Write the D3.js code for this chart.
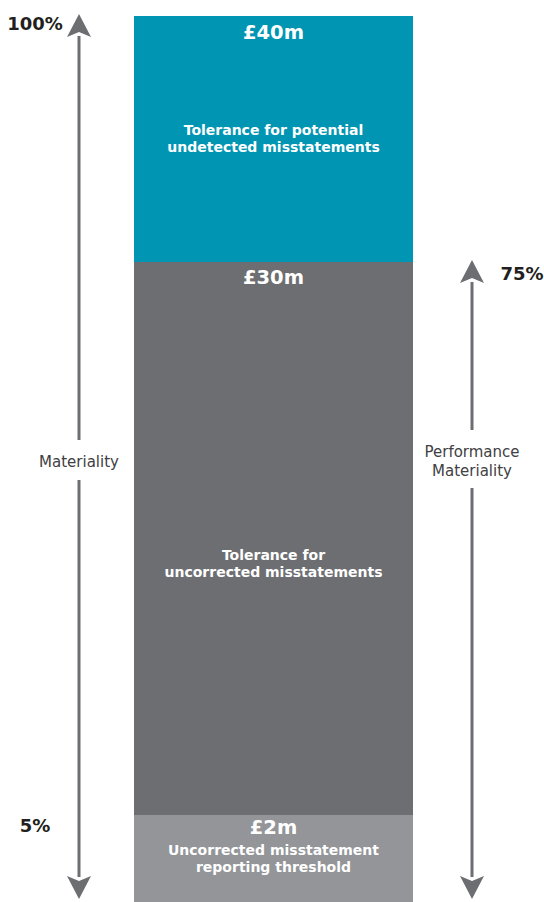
<!DOCTYPE html>
<html><head><meta charset="utf-8">
<script src="https://cdn.jsdelivr.net/npm/d3@7"></script>
<style>
html,body{margin:0;padding:0;background:#fff;}
svg{display:block;font-family:"DejaVu Sans",sans-serif;}
</style></head>
<body>
<script>
// Data (values in £m)
const levels = [40, 30, 2, 0];
const levelLabels = ["£40m", "£30m", "£2m"];
const descriptions = [
  ["Tolerance for potential", "undetected misstatements"],
  ["Tolerance for", "uncorrected misstatements"],
  ["Uncorrected misstatement", "reporting threshold"]
];
const percentLabels = ["100%", "75%", "5%"];
const arrowNames = [["Materiality"], ["Performance", "Materiality"]];
const arrowTops = [40, 30];

const segColors = ["#0095b2", "#6d6e72", "#939598"];
const arrowColor = "#6d6e72";

const W = 544, H = 902;
const svg = d3.select("body").append("svg").attr("width", W).attr("height", H);

// schematic (piecewise) value scale
const y = d3.scaleLinear().domain([0, 2, 30, 40]).range([902, 815, 262, 16]);
const x = d3.scaleBand().domain(["bar"]).range([134, 413]);

const segs = levelLabels.map((l, i) => ({top: levels[i], bottom: levels[i+1], label: l, desc: descriptions[i], color: segColors[i]}));

svg.selectAll("rect.seg").data(segs).join("rect")
  .attr("class", "seg")
  .attr("x", x("bar")).attr("width", x.bandwidth())
  .attr("y", d => y(d.top)).attr("height", d => y(d.bottom) - y(d.top))
  .attr("fill", d => d.color);

const cx = x("bar") + x.bandwidth() / 2;
const valDy = [23, 22, 19];
svg.selectAll("text.val").data(segs).join("text")
  .attr("class", "val")
  .attr("x", cx).attr("y", (d, i) => y(d.top) + valDy[i])
  .attr("text-anchor", "middle").attr("fill", "#fff")
  .attr("font-size", 19.5).attr("font-weight", "bold")
  .text(d => d.label);

const descY = [d => (y(40) + y(30)) / 2 - 4, d => (y(30) + y(2)) / 2 + 21, d => y(2) + 40];
segs.forEach((d, i) => {
  const t = svg.append("text").attr("text-anchor", "middle").attr("fill", "#fff")
    .attr("font-size", 14).attr("font-weight", "bold");
  d.desc.forEach((line, j) => {
    t.append("tspan").attr("x", cx).attr("y", descY[i](d) + j * 17).text(line);
  });
});

// arrows
function arrow(xc, topVal, names, gapMid) {
  const yt = y(topVal) - 2, yb = y(0) - 3;
  const hw = 12, hh = 23;
  const g = svg.append("g").attr("fill", arrowColor);
  const gapTop = gapMid - 22 - (names.length - 1) * 9, gapBot = gapMid + 18 + (names.length - 1) * 9;
  g.append("rect").attr("x", xc - 1.5).attr("width", 3).attr("y", yt + hh - 1).attr("height", gapTop - (yt + hh - 1));
  g.append("rect").attr("x", xc - 1.5).attr("width", 3).attr("y", gapBot).attr("height", yb - hh + 1 - gapBot);
  g.append("path").attr("d", `M${xc},${yt} L${xc + hw},${yt + hh} L${xc},${yt + hh - 5} L${xc - hw},${yt + hh} Z`);
  g.append("path").attr("d", `M${xc},${yb} L${xc + hw},${yb - hh} L${xc},${yb - hh + 5} L${xc - hw},${yb - hh} Z`);
  const t = svg.append("text").attr("text-anchor", "middle").attr("fill", "#414042").attr("font-size", 15);
  names.forEach((n, j) => t.append("tspan").attr("x", xc).attr("y", gapMid + 5 - (names.length - 1) * 9.5 + j * 19).text(n));
}
arrow(79, arrowTops[0], arrowNames[0], 462);
arrow(472, arrowTops[1], arrowNames[1], 461);

// percent labels
const pct = [
  {v: 40, label: percentLabels[0], x: 35, dy: 14},
  {v: 30, label: percentLabels[1], x: 522, dy: 18},
  {v: 2, label: percentLabels[2], x: 35, dy: 17}
];
svg.selectAll("text.pct").data(pct).join("text")
  .attr("class", "pct")
  .attr("x", d => d.x).attr("y", d => y(d.v) + d.dy)
  .attr("text-anchor", "middle").attr("fill", "#231f20")
  .attr("font-size", 18).attr("font-weight", "bold")
  .text(d => d.label);
</script>
</body></html>
